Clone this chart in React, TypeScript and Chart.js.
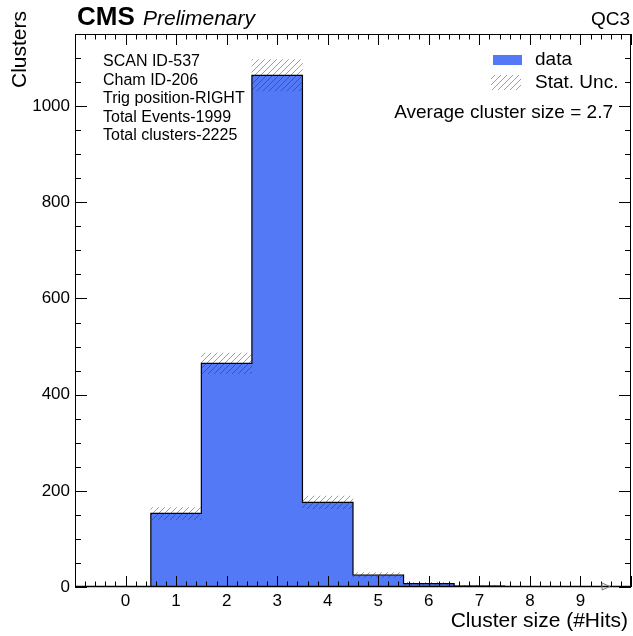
import React, { useEffect, useRef } from "react";
import { Chart, registerables } from "chart.js";

Chart.register(...registerables);

// ---- data ----
const binCenters = [1, 2, 3, 4, 5, 6, 7];
const clusterCounts = [153, 465, 1064, 176, 25, 7, 2];
const statErrors = [12.4, 21.6, 32.6, 13.3, 5.0, 2.6, 1.4];
const xTickValues = [0, 1, 2, 3, 4, 5, 6, 7, 8, 9];
const yTickValues = [0, 200, 400, 600, 800, 1000];
const infoLines = [
  "SCAN ID-537",
  "Cham ID-206",
  "Trig position-RIGHT",
  "Total Events-1999",
  "Total clusters-2225",
];
const averageClusterSize = 2.7;
const xMin = -1;
const xMax = 10;
const yMin = 0;
const yMax = 1150;
const xMinorStep = 0.2;
const yMinorStep = 50;
const binWidth = 1;

const FONT = '"Liberation Sans", Arial, Helvetica, sans-serif';
const BLUE = "rgb(84,121,247)";

function makeHatch(): CanvasPattern | string {
  const s = 6;
  const tile = document.createElement("canvas");
  tile.width = s;
  tile.height = s;
  const c = tile.getContext("2d");
  if (!c) return "rgba(120,120,120,0.5)";
  c.strokeStyle = "rgba(40,40,40,0.45)";
  c.lineWidth = 1;
  c.beginPath();
  c.moveTo(0, s);
  c.lineTo(s, 0);
  c.moveTo(-1, 1);
  c.lineTo(1, -1);
  c.moveTo(s - 1, s + 1);
  c.lineTo(s + 1, s - 1);
  c.stroke();
  const p = c.createPattern(tile, "repeat");
  return p || "rgba(120,120,120,0.5)";
}

export default function App() {
  const ref = useRef<HTMLCanvasElement | null>(null);

  useEffect(() => {
    document.body.style.margin = "0";
    const canvas = ref.current;
    if (!canvas) return;
    const hatch = makeHatch();

    const last = binCenters.length - 1;
    const stepPoints = [
      { x: binCenters[0] - binWidth / 2, y: 0 },
      ...binCenters.map((c, i) => ({ x: c - binWidth / 2, y: clusterCounts[i] })),
      { x: binCenters[last] + binWidth / 2, y: clusterCounts[last] },
      { x: binCenters[last] + binWidth / 2, y: 0 },
    ];
    const uncBars = binCenters.map((c, i) => ({
      x: c,
      y: [clusterCounts[i] - statErrors[i], clusterCounts[i] + statErrors[i]],
    }));

    const decor = {
      id: "rootDecor",
      afterDatasetsDraw(chart: any) {
        const ctx = chart.ctx as CanvasRenderingContext2D;
        const { left, right, top, bottom } = chart.chartArea;
        const xs = chart.scales.x;
        const ys = chart.scales.y;
        ctx.save();
        ctx.strokeStyle = "#000";
        ctx.lineWidth = 1;
        // ticks
        ctx.beginPath();
        for (let v = yMin; v <= yMax + 1e-6; v += yMinorStep) {
          const y = Math.round(ys.getPixelForValue(v)) + 0.5;
          const major = Math.abs(v % 200) < 1e-6;
          const len = major ? 12 : 6;
          ctx.moveTo(left, y);
          ctx.lineTo(left + len, y);
          ctx.moveTo(right, y);
          ctx.lineTo(right - len, y);
        }
        const n = Math.round((xMax - xMin) / xMinorStep);
        for (let k = 0; k <= n; k++) {
          const v = xMin + k * xMinorStep;
          const x = Math.round(xs.getPixelForValue(v)) + 0.5;
          const major = Math.abs(v - Math.round(v)) < 1e-6;
          const len = major ? 11 : 5.5;
          ctx.moveTo(x, bottom);
          ctx.lineTo(x, bottom - len);
          ctx.moveTo(x, top);
          ctx.lineTo(x, top + len);
        }
        ctx.stroke();
        // frame
        ctx.strokeRect(left + 0.5, top + 0.5, right - left - 1, bottom - top - 1);
        ctx.beginPath();
        ctx.moveTo(left, bottom - 0.5);
        ctx.lineTo(right, bottom - 0.5);
        ctx.lineWidth = 1.6;
        ctx.stroke();
        // arrow on x axis
        ctx.lineWidth = 1;
        ctx.strokeStyle = "#777";
        ctx.beginPath();
        ctx.moveTo(right - 29, bottom - 4);
        ctx.lineTo(right - 21, bottom - 0.5);
        ctx.lineTo(right - 29, bottom + 3);
        ctx.closePath();
        ctx.stroke();
        ctx.restore();
      },
      afterDraw(chart: any) {
        const ctx = chart.ctx as CanvasRenderingContext2D;
        ctx.save();
        ctx.fillStyle = "#000";
        ctx.textBaseline = "alphabetic";
        ctx.textAlign = "left";
        ctx.font = `bold 26px ${FONT}`;
        ctx.fillText("CMS", 77, 25);
        ctx.font = `italic 21px ${FONT}`;
        ctx.fillText("Prelimenary", 143, 25);
        ctx.textAlign = "right";
        ctx.font = `19px ${FONT}`;
        ctx.fillText("QC3", 630, 25);

        // info block
        ctx.textAlign = "left";
        ctx.textBaseline = "middle";
        ctx.font = `16px ${FONT}`;
        infoLines.forEach((t, i) => ctx.fillText(t, 103, 62 + i * 18.4));

        // legend
        ctx.fillStyle = BLUE;
        ctx.fillRect(493, 55, 29, 10);
        ctx.fillStyle = hatch as any;
        ctx.fillRect(491, 75, 30, 15);
        ctx.fillStyle = "#000";
        ctx.font = `19px ${FONT}`;
        ctx.fillText("data", 535, 60);
        ctx.fillText("Stat. Unc.", 535, 83);
        ctx.textAlign = "right";
        ctx.fillText(`Average cluster size = ${averageClusterSize}`, 613, 113);

        // axis titles
        ctx.textBaseline = "alphabetic";
        ctx.font = `21px ${FONT}`;
        ctx.fillText("Cluster size (#Hits)", 628, 627);
        ctx.translate(26, 11);
        ctx.rotate(-Math.PI / 2);
        ctx.textAlign = "right";
        ctx.fillText("Clusters", 0, 0);
        ctx.restore();
      },
    };

    const chart = new Chart(canvas, {
      type: "bar",
      data: {
        datasets: [
          {
            type: "bar",
            data: uncBars as any,
            backgroundColor: hatch as any,
            borderWidth: 0,
            barPercentage: 1,
            categoryPercentage: 1,
            order: 0,
          } as any,
          {
            type: "line",
            data: stepPoints as any,
            stepped: "before",
            fill: "origin",
            backgroundColor: BLUE,
            borderColor: "#000",
            borderWidth: 1.2,
            pointRadius: 0,
            order: 1,
          } as any,
        ],
      },
      options: {
        responsive: false,
        animation: false,
        layout: { padding: { top: 34, right: 2, left: 0, bottom: 0 } },
        plugins: { legend: { display: false }, tooltip: { enabled: false } },
        scales: {
          x: {
            type: "linear",
            min: xMin,
            max: xMax,
            offset: false,
            grid: { display: false, drawTicks: false },
            border: { display: false },
            afterBuildTicks: (s: any) => {
              s.ticks = xTickValues.map((v) => ({ value: v }));
            },
            afterFit: (s: any) => {
              s.height = 49;
            },
            ticks: {
              font: { family: FONT, size: 17 },
              color: "#000",
              padding: 4,
              maxRotation: 0,
              autoSkip: false,
              callback: (v: any) => String(v),
            },
          },
          y: {
            type: "linear",
            min: yMin,
            max: yMax,
            grid: { display: false, drawTicks: false },
            border: { display: false },
            afterBuildTicks: (s: any) => {
              s.ticks = yTickValues.map((v) => ({ value: v }));
            },
            afterFit: (s: any) => {
              s.width = 75;
            },
            ticks: {
              font: { family: FONT, size: 17 },
              color: "#000",
              padding: 5,
              autoSkip: false,
              callback: (v: any) => String(v),
            },
          },
        },
      } as any,
      plugins: [decor],
    });
    return () => chart.destroy();
  }, []);

  return (
    <canvas
      ref={ref}
      width={633}
      height={636}
      style={{ display: "block", background: "#fff" }}
    />
  );
}
